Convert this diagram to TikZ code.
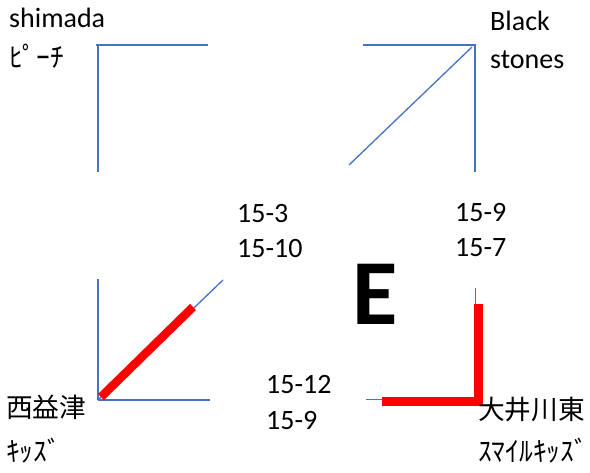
\documentclass[tikz,border=0pt]{standalone}
\usepackage{fontspec}
\setmainfont{Carlito}
\newfontfamily\jp{Noto Sans CJK JP}
\definecolor{lineblue}{HTML}{4472C4}
\definecolor{markred}{HTML}{FF0000}
\begin{document}
\begin{tikzpicture}[x=1pt,y=-1pt,
  thin line/.style={draw=lineblue,line width=1.3pt},
  mark line/.style={draw=markred,line width=8.5pt,line join=miter},
  lbl/.style={anchor=base west,inner sep=0pt,font=\fontsize{28}{33}\selectfont},
  jlbl/.style={anchor=base west,inner sep=0pt,font=\jp\fontsize{26.7}{32}\selectfont},
  klbl/.style={anchor=base west,inner sep=0pt,font=\jp\fontsize{27.5}{32}\selectfont}]
\useasboundingbox (0,0) rectangle (590,473);
% top-left
\draw[thin line] (96,45) -- (208,45);
\draw[thin line] (98,46) -- (98,172);
% top-right
\draw[thin line] (363,45) -- (476,45);
\draw[thin line] (475,46) -- (475,172);
\draw[thin line] (472,47) -- (349,165);
% bottom-left
\draw[thin line] (98,279) -- (98,400);
\draw[thin line] (98,400) -- (210,400);
\draw[thin line] (98,400) -- (223,280);
\draw[mark line] (101,397) -- (193,307);
% bottom-right
\draw[thin line] (475.5,288) -- (475.5,400);
\draw[thin line] (366,399.5) -- (475.5,399.5);
\draw[mark line] (382,401.5) -- (478.5,401.5) -- (478.5,304);
% labels
\node[lbl] (shimada) at (9,28) {shimada};
\node[klbl] (peach) at (9,68) {ﾋﾟｰﾁ};
\node[lbl] (black) at (490,31) {Black};
\node[lbl] (stones) at (490,69) {stones};
\node[lbl] (a1) at (237,223) {15-3};
\node[lbl] (a2) at (237,258) {15-10};
\node[lbl] (b1) at (455,222) {15-9};
\node[lbl] (b2) at (455,257) {15-7};
\node[lbl] (c1) at (266,394) {15-12};
\node[lbl] (c2) at (266,430) {15-9};
\node[anchor=base west,inner sep=0pt,font=\bfseries\fontsize{93}{100}\selectfont] (E) at (352,325) {E};
\node[jlbl] (nishi) at (6,418) {西益津};
\node[klbl] (kids) at (6,462) {ｷｯｽﾞ};
\node[jlbl] (oi) at (478,420) {大井川東};
\node[klbl] (smile) at (478,462) {ｽﾏｲﾙｷｯｽﾞ};
\end{tikzpicture}
\end{document}
